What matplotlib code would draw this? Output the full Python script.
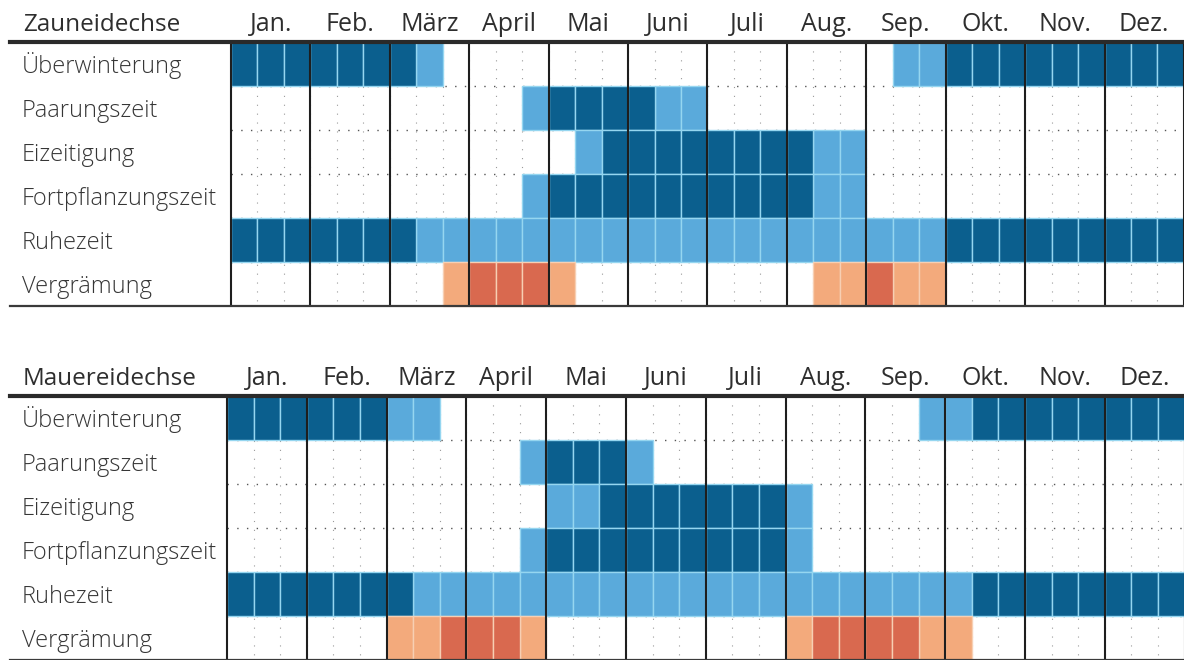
import matplotlib.pyplot as plt

months = ['Jan.', 'Feb.', 'März', 'April', 'Mai', 'Juni',
          'Juli', 'Aug.', 'Sep.', 'Okt.', 'Nov.', 'Dez.']
rows = ['Überwinterung', 'Paarungszeit', 'Eizeitigung',
        'Fortpflanzungszeit', 'Ruhezeit', 'Vergrämung']

# three decades per month; 0 = none, 1 = partial (light), 2 = main period (dark)
#                       Jan    Feb    Mär    Apr    Mai    Jun    Jul    Aug    Sep    Okt    Nov    Dez
zaun_ueberwinterung = [2,2,2, 2,2,2, 2,1,0, 0,0,0, 0,0,0, 0,0,0, 0,0,0, 0,0,0, 0,1,1, 2,2,2, 2,2,2, 2,2,2]
zaun_paarung        = [0,0,0, 0,0,0, 0,0,0, 0,0,1, 2,2,2, 2,1,1, 0,0,0, 0,0,0, 0,0,0, 0,0,0, 0,0,0, 0,0,0]
zaun_eizeitigung    = [0,0,0, 0,0,0, 0,0,0, 0,0,0, 0,1,2, 2,2,2, 2,2,2, 2,1,1, 0,0,0, 0,0,0, 0,0,0, 0,0,0]
zaun_fortpflanzung  = [0,0,0, 0,0,0, 0,0,0, 0,0,1, 2,2,2, 2,2,2, 2,2,2, 2,1,1, 0,0,0, 0,0,0, 0,0,0, 0,0,0]
zaun_ruhezeit       = [2,2,2, 2,2,2, 2,1,1, 1,1,1, 1,1,1, 1,1,1, 1,1,1, 1,1,1, 1,1,1, 2,2,2, 2,2,2, 2,2,2]
zaun_vergraemung    = [0,0,0, 0,0,0, 0,0,1, 2,2,2, 1,0,0, 0,0,0, 0,0,0, 0,1,1, 2,1,1, 0,0,0, 0,0,0, 0,0,0]

mauer_ueberwinterung = [2,2,2, 2,2,2, 1,1,0, 0,0,0, 0,0,0, 0,0,0, 0,0,0, 0,0,0, 0,0,1, 1,2,2, 2,2,2, 2,2,2]
mauer_paarung        = [0,0,0, 0,0,0, 0,0,0, 0,0,1, 2,2,2, 1,0,0, 0,0,0, 0,0,0, 0,0,0, 0,0,0, 0,0,0, 0,0,0]
mauer_eizeitigung    = [0,0,0, 0,0,0, 0,0,0, 0,0,0, 1,1,2, 2,2,2, 2,2,2, 1,0,0, 0,0,0, 0,0,0, 0,0,0, 0,0,0]
mauer_fortpflanzung  = [0,0,0, 0,0,0, 0,0,0, 0,0,1, 2,2,2, 2,2,2, 2,2,2, 1,0,0, 0,0,0, 0,0,0, 0,0,0, 0,0,0]
mauer_ruhezeit       = [2,2,2, 2,2,2, 2,1,1, 1,1,1, 1,1,1, 1,1,1, 1,1,1, 1,1,1, 1,1,1, 1,2,2, 2,2,2, 2,2,2]
mauer_vergraemung    = [0,0,0, 0,0,0, 1,1,2, 2,2,1, 0,0,0, 0,0,0, 0,0,0, 1,2,2, 2,2,1, 1,0,0, 0,0,0, 0,0,0]

species = [
    ('Zauneidechse', [zaun_ueberwinterung, zaun_paarung, zaun_eizeitigung,
                      zaun_fortpflanzung, zaun_ruhezeit, zaun_vergraemung]),
    ('Mauereidechse', [mauer_ueberwinterung, mauer_paarung, mauer_eizeitigung,
                       mauer_fortpflanzung, mauer_ruhezeit, mauer_vergraemung]),
]

blue = {1: '#5aaadb', 2: '#0b5f8e'}
orange = {1: '#f3aa7c', 2: '#d9694f'}
txt = '#2e2e2e'

# layout per table (pixels of the 1184x660 canvas):
# jan start, decade width, top of axes, header line
layouts = [
    dict(rect=[0, 0.5, 1, 0.5], x0=231, dw=26.47, top=0, head=42),
    dict(rect=[0, 0.0, 1, 0.5], x0=227, dw=26.6, top=330, head=396),
]
row_h = 44

plt.rcParams['font.family'] = ['Open Sans', 'DejaVu Sans']
fig = plt.figure(figsize=(11.84, 6.6), dpi=100)

for (name, data), lay in zip(species, layouts):
    ax = fig.add_axes(lay['rect'])
    x0, dw = lay['x0'], lay['dw']
    ax.set_xlim(-x0 / dw, (1184 - x0) / dw)
    ax.set_ylim((lay['top'] + 330 - lay['head']) / row_h, (lay['top'] - lay['head']) / row_h)
    ax.axis('off')

    # faint dotted grid in the empty cells
    ax.vlines(range(1, 36), 0, 6, colors='#9a9a9a', lw=0.8, linestyles=(0, (1, 7)), zorder=1)
    ax.hlines(range(1, 6), 0, 36, colors='#555555', lw=1.0, linestyles=(0, (1, 6)), zorder=1)

    for r, vals in enumerate(data):
        pal = orange if r == 5 else blue
        edge = '#f7cfb3' if r == 5 else '#95d6f0'
        for lvl in (1, 2):
            lefts = [d for d, v in enumerate(vals) if v == lvl]
            ax.barh([r + 0.5] * len(lefts), 1, left=lefts, height=1, align='center',
                    color=pal[lvl], edgecolor=edge, linewidth=1.0, zorder=2)
        ax.text((22 - x0) / dw, r + 0.7, rows[r], ha='left', va='baseline',
                fontsize=17, color='#363636', fontweight='light')

    # month boundaries
    ax.vlines(range(0, 37, 3), 0, 6, colors='#1e1e1e', lw=1.5, zorder=3)

    # header row
    ax.text((23 - x0) / dw, -0.24, name, ha='left', va='baseline',
            fontsize=17.5, color=txt)
    for m, lab in enumerate(months):
        ax.text(3 * m + 1.5, -0.24, lab, ha='center', va='baseline',
                fontsize=18, color=txt)

    xl = (10 - x0) / dw
    ax.plot([xl, 36.5], [0, 0], color='#2a2a2a', lw=3, clip_on=False, zorder=4)
    ax.plot([xl, 36.5], [6, 6], color='#3a3a3a', lw=1.6, clip_on=False, zorder=4)

fig.savefig('out.png', dpi=100)
